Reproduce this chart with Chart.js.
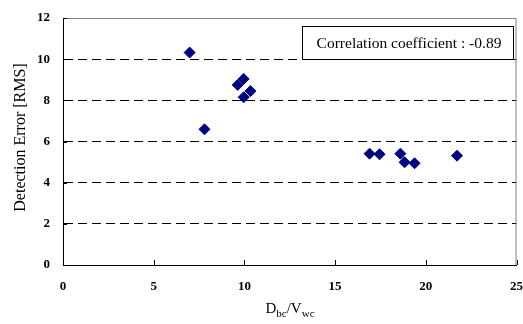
<!DOCTYPE html>
<html>
<head>
<meta charset="utf-8">
<script src="https://cdn.jsdelivr.net/npm/chart.js@4"></script>
<style>
    html, body { margin: 0; padding: 0; background: #fff; }
    #wrap { width: 523px; height: 324px; position: relative; }
</style>
</head>
<body>
<div id="wrap"><canvas id="chart" width="523" height="324"></canvas></div>
<script>
// D_bc / V_wc ratio (x) and detection error in RMS (y)
const ratios = [6.98, 7.8, 9.63, 9.96, 10.33, 9.96, 16.9, 17.45, 18.6, 18.83, 19.38, 21.72];
const errors = [10.32, 6.59, 8.75, 9.04, 8.45, 8.15, 5.41, 5.38, 5.41, 4.99, 4.94, 5.31];
const xTicks = [0, 5, 10, 15, 20, 25];
const yTicks = [0, 2, 4, 6, 8, 10, 12];
const yTitle = "Detection Error [RMS]";
const noteText = "Correlation coefficient : -0.89";

const serif = "'Liberation Serif', 'DejaVu Serif', serif";

// extra bits Chart.js can't do on its own: inner ticks, frame, subscripted title, note box
const extras = {
    id: "extras",
    afterDraw(chart) {
        const ctx = chart.ctx;
        const area = chart.chartArea;
        const xs = chart.scales.x;
        const ys = chart.scales.y;
        ctx.save();

        // gray frame top and right
        ctx.strokeStyle = "#808080";
        ctx.lineWidth = 1;
        ctx.beginPath();
        ctx.moveTo(area.left, area.top + 0.5);
        ctx.lineTo(area.right - 0.5, area.top + 0.5);
        ctx.lineTo(area.right - 0.5, area.bottom);
        ctx.stroke();

        // inner tick marks
        ctx.strokeStyle = "#000";
        ctx.beginPath();
        xTicks.forEach(v => {
            const px = Math.round(xs.getPixelForValue(v)) + 0.5;
            ctx.moveTo(px, area.bottom);
            ctx.lineTo(px, area.bottom - 5);
        });
        yTicks.forEach(v => {
            const py = Math.round(ys.getPixelForValue(v)) + 0.5;
            ctx.moveTo(area.left, py);
            ctx.lineTo(area.left + 4, py);
        });
        ctx.stroke();

        // y title
        ctx.fillStyle = "#000";
        ctx.font = "16px " + serif;
        ctx.textAlign = "center";
        ctx.textBaseline = "middle";
        ctx.translate(21, (area.top + area.bottom) / 2 - 4);
        ctx.rotate(-Math.PI / 2);
        ctx.fillText(yTitle, 0, 0);
        ctx.setTransform(1, 0, 0, 1, 0, 0);

        // x title with subscripts: D_bc / V_wc
        const parts = [["D", 0, 15], ["bc", 4, 11], ["/V", 0, 15], ["wc", 4, 11]];
        let total = 0;
        parts.forEach(p => { ctx.font = p[2] + "px " + serif; total += ctx.measureText(p[0]).width; });
        let cx = 290 - total / 2;
        ctx.textAlign = "left";
        ctx.textBaseline = "alphabetic";
        parts.forEach(p => {
            ctx.font = p[2] + "px " + serif;
            ctx.fillText(p[0], cx, 313 + p[1]);
            cx += ctx.measureText(p[0]).width;
        });

        // note box
        ctx.fillStyle = "#fff";
        ctx.fillRect(302, 26, 212, 33);
        ctx.strokeStyle = "#000";
        ctx.strokeRect(302.5, 26.5, 211, 33);
        ctx.fillStyle = "#000";
        ctx.font = "15.5px " + serif;
        ctx.textAlign = "center";
        ctx.textBaseline = "middle";
        ctx.fillText(noteText, 409, 44);

        ctx.restore();
    }
};

new Chart(document.getElementById("chart"), {
    type: "scatter",
    data: {
        datasets: [{
            data: ratios.map((r, i) => ({ x: r, y: errors[i] })),
            pointStyle: "rectRot",
            pointRadius: 5.5,
            pointHoverRadius: 5.5,
            backgroundColor: "#000080",
            borderColor: "#000080",
            borderWidth: 1
        }]
    },
    options: {
        responsive: false,
        animation: false,
        events: [],
        layout: { padding: { left: 0, top: 18, right: 5, bottom: 0 } },
        plugins: {
            legend: { display: false },
            tooltip: { enabled: false }
        },
        scales: {
            x: {
                type: "linear",
                min: 0,
                max: 25,
                afterFit: s => { s.height = 59; s.paddingLeft = 0; s.paddingRight = 0; },
                afterBuildTicks: s => { s.ticks = xTicks.map(v => ({ value: v })); },
                grid: { drawOnChartArea: false, drawTicks: false },
                border: { color: "#000", width: 1 },
                ticks: {
                    padding: 14,
                    color: "#000",
                    font: { family: serif, size: 13, weight: "bold" }
                }
            },
            y: {
                min: 0,
                max: 12,
                afterFit: s => { s.width = 63; s.paddingTop = 0; s.paddingBottom = 0; },
                afterBuildTicks: s => { s.ticks = yTicks.map(v => ({ value: v })); },
                grid: {
                    drawTicks: false,
                    color: c => (c.tick.value === 0 || c.tick.value === 12) ? "rgba(0,0,0,0)" : "#000",
                    lineWidth: 1
                },
                border: { color: "#000", width: 1, dash: [9, 5] },
                ticks: {
                    padding: 13,
                    color: "#000",
                    font: { family: serif, size: 13, weight: "bold" }
                }
            }
        }
    },
    plugins: [extras]
});
</script>
</body>
</html>
